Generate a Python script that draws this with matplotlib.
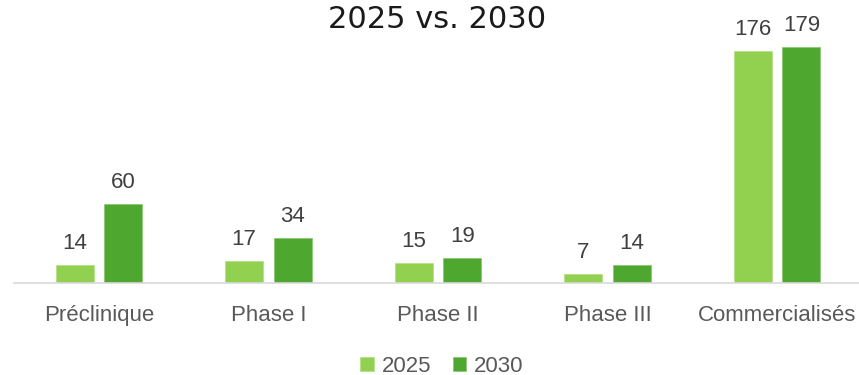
# 2025 vs 2030 pipeline bars

import matplotlib
matplotlib.use("Agg")
import matplotlib.pyplot as plt
import numpy as np

plt.rcParams['font.family'] = ['Liberation Sans', 'DejaVu Sans']

categories = ['Préclinique', 'Phase I', 'Phase II', 'Phase III', 'Commercialisés']
vals_2025 = [14, 17, 15, 7, 176]
vals_2030 = [60, 34, 19, 14, 179]
series_names = ['2025', '2030']

col_2025 = '#92D050'
col_2030 = '#4EA72E'
text_col = '#595959'

fig = plt.figure(figsize=(8.59, 3.75), dpi=100)
ax = fig.add_axes([14 / 859, 92 / 375, 848 / 859, 260 / 375])

x = np.arange(len(categories))
w = 0.224
off = 0.143

b1 = ax.bar(x - off, vals_2025, w, color=col_2025, edgecolor='#b5e08a', linewidth=0.6, label=series_names[0])
b2 = ax.bar(x + off, vals_2030, w, color=col_2030, edgecolor='#8cc872', linewidth=0.6, label=series_names[1])

for bars, vals in [(b1, vals_2025), (b2, vals_2030)]:
    for rect, v in zip(bars, vals):
        ax.annotate(str(v), (rect.get_x() + rect.get_width() / 2, rect.get_height()),
                    xytext=(0, 11.5), textcoords='offset points',
                    ha='center', va='baseline', fontsize=16, color='#404040')

ax.set_xlim(-0.5, len(categories) - 0.5)
ax.set_ylim(0, 197)
ax.set_xticks(x)
ax.set_xticklabels(categories, fontsize=16, color=text_col)
ax.tick_params(axis='x', length=0, pad=16)
ax.set_yticks([])
for s in ['top', 'right', 'left']:
    ax.spines[s].set_visible(False)
ax.spines['bottom'].set_color('#d9d9d9')
ax.spines['bottom'].set_linewidth(1.2)

fig.text(437 / 859, 1 - 19 / 375, '2025 vs. 2030', ha='center', va='center',
         fontsize=22, color='#1a1a1a', family=['DejaVu Sans'])

fig.legend(loc='center', bbox_to_anchor=(442 / 859, 1 - 366 / 375), ncol=2,
           frameon=False, fontsize=16, handlelength=0.6, handleheight=0.6,
           handletextpad=0.35, columnspacing=1.0, labelcolor=text_col)

fig.savefig('out.png', dpi=100)
